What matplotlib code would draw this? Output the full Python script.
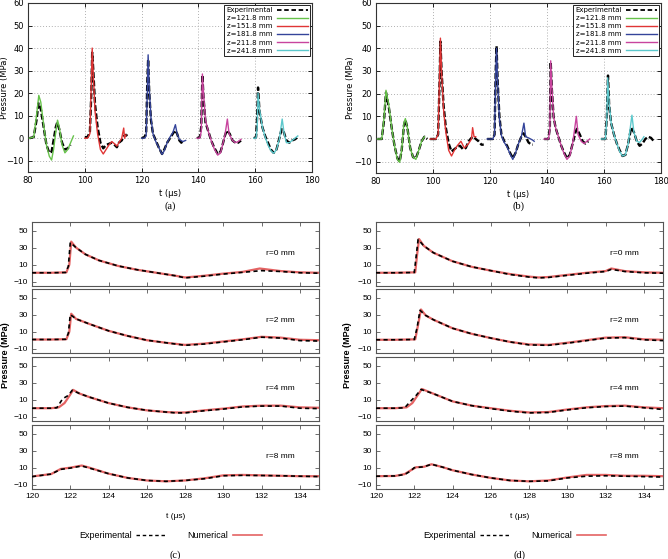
import matplotlib
matplotlib.use("Agg")
import matplotlib.pyplot as plt
from matplotlib.lines import Line2D

# ---------------- Panel (a)/(b) data ----------------
z_labels = ["z=121.8 mm", "z=151.8 mm", "z=181.8 mm", "z=211.8 mm", "z=241.8 mm"]
z_colors = ["#66c24a", "#e03535", "#34449a", "#c8449e", "#5cc8cc"]

# panel (a) experimental
a_exp_t = [
    [80.5, 82, 83, 83.7, 84.5, 85.5, 86.5, 87.5, 88.3, 89, 89.8, 90.3, 91, 92, 93, 94, 95],
    [100, 101, 101.8, 102.3, 102.6, 103, 103.6, 104.5, 105.5, 106.5, 107.5, 108.5, 109.5, 110.5, 111.3, 112, 113, 113.8, 114.5, 115],
    [120, 121, 121.6, 122, 122.3, 122.7, 123.3, 124, 125, 126, 127.2, 128, 129, 130, 131, 131.8, 132.5, 133.3, 134, 134.5],
    [139.5, 140.5, 141, 141.4, 141.8, 142.5, 143.5, 144.5, 145.5, 146.8, 147.8, 148.5, 149.3, 150, 151, 152, 153, 154, 155],
    [159.5, 160.3, 160.7, 161, 161.5, 162.5, 163.5, 164.5, 165.5, 166.5, 167.5, 168.5, 169.3, 170, 171, 172, 173, 174, 175],
]
a_exp_p = [
    [0, 0.5, 8, 15.5, 13, 5, -3, -6.5, -6, -1, 5, 7, 4, -2, -5, -4.5, -3],
    [0.5, 0.5, 3, 20, 38, 30, 15, 5, -2, -4.5, -3, -2.5, -2, -3, -4, -2, -1, 1, 1.5, 1],
    [0, 0.5, 2, 25, 35, 20, 8, 2, -1, -4, -7, -5, -2, 0, 2, 3.5, 2, -1, -2, -1],
    [0, 0.5, 5, 28, 18, 7, 3, -1, -4, -7, -6, -3, 1, 3.5, 2, -1, -2, -2, -1],
    [0, 0.5, 10, 22.5, 12, 5, 1, -2, -5, -6.5, -5, 0, 4, 3, -1, -2, -1, -0.5, 0.5],
]
# panel (a) numerical
a_num_t = [
    [80.5, 82, 83, 83.8, 84.5, 85.5, 86.5, 87.5, 88.3, 89, 89.8, 90.4, 91, 92, 93, 94, 95, 96],
    [100, 101, 101.8, 102.3, 102.6, 103, 103.6, 104.5, 105.5, 106.5, 107.5, 108.5, 109.5, 110.5, 111.3, 112, 113, 113.7, 114, 114.5],
    [120, 121, 121.6, 122, 122.3, 122.7, 123.3, 124, 125, 126, 127.2, 128, 129, 130, 131, 131.9, 132.5, 133.3, 134.5, 135.5],
    [139.5, 140.5, 141, 141.4, 141.8, 142.5, 143.5, 144.5, 145.5, 146.8, 147.8, 148.5, 149.3, 150.2, 150.8, 152, 153, 154, 155],
    [159.5, 160.3, 160.7, 161, 161.5, 162.5, 163.5, 164.5, 165.5, 166.5, 167.5, 168.5, 169.5, 170.2, 171, 172, 173, 174, 175],
]
a_num_p = [
    [0, 0.5, 10, 19, 16, 6, -3, -8, -9.7, -5, 3, 8, 5, -3, -6.5, -5, -2, 1],
    [0, 0, 2, 25, 40, 28, 12, 2, -5, -7, -5, -3, -1.5, -2.5, -3.5, -2, 0, 4.5, 0, 1.5],
    [0, 0, 1, 20, 37, 22, 9, 2, -1.5, -4, -7.2, -5.5, -2, 0.5, 2.5, 6, 2, -0.5, -1.5, -1],
    [0, 0, 3, 28.5, 20, 8, 3, -1, -4.5, -7.5, -6.5, -3, 1, 8.5, 2, -1, -2, -1.5, -0.5],
    [0, 0, 5, 20, 13, 5, 0.5, -3, -5.5, -6.7, -5, -0.5, 8.5, 2, -2, -2, -1, 0, 1],
]

# panel (b) experimental
b_exp_t = [
    [80.5, 82, 82.8, 83.5, 84.5, 85.5, 86.5, 87.5, 88.3, 89, 89.8, 90.3, 91, 92, 93, 94, 95, 96, 97, 98],
    [99, 101, 101.8, 102.3, 102.6, 103, 103.7, 104.5, 105.5, 106.5, 107.5, 108.5, 109.5, 110.5, 111.5, 112.5, 113.5, 114.2, 115, 116, 117, 117.8],
    [119, 121, 121.6, 122, 122.3, 122.7, 123.3, 124, 125, 126, 127, 128, 129, 130, 131, 131.8, 132.5, 133.5, 134.5, 135],
    [139, 140.5, 141, 141.3, 141.7, 142.3, 143, 144, 145, 146, 147, 148, 149, 150, 150.5, 151.5, 152.5, 153.5, 154.5],
    [159, 160.5, 161, 161.4, 161.8, 162.5, 163.5, 164.5, 165.5, 166.5, 167.5, 168.5, 169.5, 170.5, 171.5, 172.5, 173.5, 174.5, 175.5, 176.5, 177.5],
]
b_exp_p = [
    [0, 0, 8, 20.5, 14, 5, -3, -8.5, -10, -5, 6, 8.5, 5, -4, -8, -8.5, -5, -1, 1, 0],
    [0, 0, 2, 25, 43, 30, 15, 5, -2, -5.5, -4.5, -3.5, -3, -4.5, -4, -1, 0.5, 1, 0, -1, -2.5, -2.5],
    [0, 0, 2, 30, 41, 25, 10, 2, -1, -3, -6, -8.5, -6, -2, 1, 2.5, 1, -1.5, -2.5, -2.5],
    [0, 0, 5, 34, 22, 10, 5, 1, -3, -6, -8.5, -7, -2, 3, 4.5, 2, -1, -2, -1],
    [0, 0, 10, 28, 15, 7, 2, -2, -5, -7.5, -7, -2, 5, 3, -1, -3, -2, 0, 1, 0.5, -1],
]
# panel (b) numerical
b_num_t = [
    [80.5, 82, 82.8, 83.5, 84.5, 85.5, 86.5, 87.5, 88.3, 89, 89.8, 90.3, 91, 92, 93, 94, 95, 96, 97],
    [99, 101, 101.8, 102.3, 102.6, 103, 103.7, 104.5, 105.5, 106.5, 107.5, 108.5, 109.8, 111, 112.5, 113.5, 113.9, 114.4, 115],
    [119, 121, 121.6, 122, 122.3, 122.7, 123.3, 124, 125, 126, 127, 128, 129, 130, 131, 131.9, 132.5, 133.5, 135, 135.5],
    [139, 140.5, 141, 141.3, 141.7, 142.3, 143, 144, 145, 146, 147, 148, 149, 150.3, 150.9, 152, 153, 154, 155],
    [159, 160.5, 161, 161.3, 161.8, 162.5, 163.5, 164.5, 165.5, 166.5, 167.5, 168.5, 169.8, 170.5, 171.5, 172.5, 173.5, 174],
]
b_num_p = [
    [0, 0, 9, 21.5, 15, 5, -3, -9, -10.3, -5, 7, 9, 5, -4, -8, -9, -5, -1, 1],
    [0, 0, 2, 28, 44.5, 30, 13, 3, -5, -7.5, -5, -3, -1, -4, -2, 0, 5, 1, 1],
    [0, 0, 2, 28, 40, 24, 9, 1.5, -1.5, -3.5, -6.5, -9, -6, -2, 1, 7, 1, 0.5, -0.5, -1],
    [0, 0, 4, 34.5, 23, 10, 5, 1, -3, -6.5, -9, -7.5, -2, 10, 2, -1, -2, -1, 0],
    [0, 0, 9, 27, 16, 7, 2, -2, -5.5, -7.5, -7, -2, 10.5, 3, -1, -1.5, 0, 1],
]

# ---------------- Panel (c)/(d) data ----------------
r_labels = ["r=0 mm", "r=2 mm", "r=4 mm", "r=8 mm"]

c_exp_t = [
    [120, 121, 121.75, 121.9, 122.0, 122.3, 122.8, 123.5, 124.5, 125.5, 126.5, 127.5, 128, 129, 130, 131, 132, 133, 134, 135],
    [120, 121, 121.75, 121.9, 122.0, 122.3, 123, 124, 125, 126, 127, 128, 129, 130, 131, 132, 133, 134, 135],
    [120, 121, 121.3, 121.6, 121.9, 122.1, 122.5, 123, 124, 125, 126, 127, 127.5, 128, 129, 130, 131, 132, 133, 134, 135],
    [120, 121, 121.5, 122, 122.6, 123, 124, 125, 126, 127, 128, 129, 130, 131, 132, 133, 134, 135],
]
c_exp_p = [
    [0.5, 0.5, 0.8, 8, 36, 30, 22, 15, 8.5, 4, 0.5, -3, -5.5, -3.5, -1, 1, 3, 2, 0.5, 0],
    [0.8, 0.8, 1, 8, 30, 25, 19, 11, 5, 0, -3, -6, -4.5, -2, 0.5, 3.5, 2.5, -0.5, -1],
    [0, 0, 0.5, 11, 15, 21, 17, 13, 6, 1, -2.5, -4.5, -5.5, -5.5, -3, -1, 1.5, 2.5, 2.5, 0, -0.5],
    [-0.5, 2.5, 8, 9.5, 12, 9.5, 3, -2, -5, -6, -5, -3, 0.5, 1, 0.8, 0.5, 0, -0.5],
]
c_num_t = [
    [120, 121, 121.8, 121.95, 122.05, 122.3, 122.8, 123.5, 124.5, 125.5, 126.5, 127.5, 128, 129, 130, 131, 131.9, 133, 134, 135],
    [120, 121, 121.8, 121.95, 122.05, 122.3, 123, 124, 125, 126, 127, 128, 129, 130, 131, 132, 133, 134, 135],
    [120, 121, 121.4, 121.7, 122.0, 122.15, 122.5, 123, 124, 125, 126, 127, 127.5, 128, 129, 130, 131, 132, 133, 134, 135],
    [120, 121, 121.5, 122, 122.6, 123, 124, 125, 126, 127, 128, 129, 130, 131, 132, 133, 134, 135],
]
c_num_p = [
    [0.5, 0.5, 1, 10, 37, 30, 22, 15, 8.5, 4, 0.5, -3, -5, -3, -0.5, 1.5, 5.5, 2.5, 1, 0.5],
    [0.8, 0.8, 1.2, 10, 31, 25, 19, 11, 5, 0, -3, -5.5, -4, -1.5, 1, 4, 3, 0.5, 0],
    [0, 0, 1, 6, 16, 21.5, 17, 13, 6, 1, -2.5, -4.5, -5, -5, -2.5, -0.5, 2, 3, 3, 1, 0.5],
    [-0.3, 2.5, 8.5, 10, 12.5, 10, 3, -2, -5, -6, -5, -2.5, 1, 1.5, 1, 0.5, 0, 0],
]

d_exp_t = [
    [120, 121, 122.0, 122.1, 122.2, 122.5, 123, 124, 125, 126, 127, 128, 128.5, 129, 130, 131, 132, 132.3, 133, 134, 135],
    [120, 121, 122.0, 122.15, 122.3, 122.6, 123, 124, 125, 126, 127, 128, 129, 130, 131, 132, 133, 134, 135],
    [120, 121, 121.5, 121.8, 122.1, 122.35, 123, 124, 125, 126, 127, 128, 129, 130, 131, 132, 133, 134, 135],
    [120, 121, 121.5, 121.8, 122, 122.5, 122.9, 123.5, 124, 125, 126, 127, 128, 129, 130, 131, 132, 133, 134, 135],
]
d_exp_p = [
    [0.5, 0.5, 0.8, 20, 39.5, 32, 24, 14, 7.5, 3, -1.5, -4.5, -5.5, -5, -2.5, 0, 2, 4.5, 2, 0.5, 0],
    [0.5, 0.5, 0.8, 15, 35, 29, 24, 14, 7.5, 2.5, -2, -5.5, -6, -3.5, -0.5, 2.5, 3, 0.5, -0.5],
    [0, 0, 0.5, 8, 15, 22, 17, 8, 3, -0.5, -3.5, -5.5, -5, -2, 0.5, 2, 2.5, 0.5, -1.5],
    [0, 0.3, 2, 6, 10, 11, 14, 10.5, 7, 2, -2, -5, -6, -5.5, -2, 0, 0.5, 0, -0.5, -1],
]
d_num_t = [
    [120, 121, 122.05, 122.15, 122.25, 122.5, 123, 124, 125, 126, 127, 128, 128.5, 129, 130, 131, 132, 132.3, 133, 134, 135],
    [120, 121, 122.05, 122.2, 122.35, 122.6, 123, 124, 125, 126, 127, 128, 129, 130, 131, 132, 133, 134, 135],
    [120, 121, 121.6, 121.9, 122.2, 122.4, 123, 124, 125, 126, 127, 128, 129, 130, 131, 132, 133, 134, 135],
    [120, 121, 121.5, 121.9, 122.1, 122.5, 122.9, 123.5, 124, 125, 126, 127, 128, 129, 130, 131, 132, 133, 134, 135],
]
d_num_p = [
    [0.5, 0.5, 1, 22, 40, 32, 24, 14, 7.5, 3, -1, -4, -5, -4.5, -2, 0.5, 2.5, 5.5, 2.5, 1, 0.5],
    [0.5, 0.5, 1, 18, 36, 29, 24, 14, 7.5, 2.5, -2, -5, -5.5, -3, 0, 3, 3.5, 1, 0.5],
    [0, 0, 1, 6, 16, 22.5, 17, 8, 3, 0, -3, -5, -4.5, -1.5, 1, 2.5, 3, 1, 0],
    [0, 0.3, 2.5, 8, 10.5, 11, 14, 10.5, 7, 2, -2, -5, -6, -5, -1.5, 1.5, 1.5, 0.5, 0.5, 0],
]

exp_color = "black"
num_color = "#e46464"

fig = plt.figure(figsize=(6.68, 5.59), dpi=100)
plt.rcParams["font.family"] = ["DejaVu Sans"]


def top_panel(rect, exp_t, exp_p, num_t, num_p, ylab_x, caption):
    ax = fig.add_axes(rect)
    for i in range(5):
        ax.plot(exp_t[i], exp_p[i], color=exp_color, lw=1.7, ls=(0, (2.5, 1)), zorder=2)
        ax.plot(num_t[i], num_p[i], color=z_colors[i], lw=1.0, zorder=3)
    ax.set_xlim(80, 180)
    ax.set_ylim(-15, 60)
    ax.set_xticks(range(80, 181, 20))
    ax.set_yticks(range(-10, 61, 10))
    ax.grid(True, color="#b0b0b0", ls=(0, (1, 2)), lw=0.7)
    ax.tick_params(direction="in", top=True, right=True, labelsize=6, length=3, width=0.6, pad=3)
    for s in ax.spines.values():
        s.set_linewidth(0.8)
        s.set_color("#333333")
    ax.set_xlabel("t (μs)", fontsize=6, labelpad=3)
    fig.text(ylab_x, rect[1] + rect[3] / 2, "Pressure (MPa)", rotation=90, fontsize=6,
             ha="center", va="center")
    handles = [Line2D([], [], color=exp_color, lw=1.3, ls=(0, (2.5, 1.5)))]
    handles += [Line2D([], [], color=c, lw=1.0) for c in z_colors]
    leg = ax.legend(handles, ["Experimental"] + z_labels, loc="upper right", fontsize=5,
                    markerfirst=False, fancybox=False, framealpha=1, edgecolor="#222222",
                    handlelength=4.5, handletextpad=0.6, labelspacing=0.3, borderpad=0.3,
                    borderaxespad=0.3)
    leg.get_frame().set_linewidth(0.7)
    for t in leg.get_texts():
        t.set_ha("right")
    leg._legend_box.align = "right"
    fig.text(rect[0] + rect[2] / 2, 1 - 206 / 559, caption, fontsize=7.5,
             family=["Liberation Serif"], ha="center", va="center")
    return ax


top_panel([28 / 668, 1 - 172 / 559, 284 / 668, 169 / 559], a_exp_t, a_exp_p, a_num_t, a_num_p,
          5 / 668, "(a)")
top_panel([376 / 668, 1 - 173 / 559, 285 / 668, 170 / 559], b_exp_t, b_exp_p, b_num_t, b_num_p,
          351 / 668, "(b)")

rows_top = [222, 289, 357, 425]
row_h = 64


def bottom_panel(left_px, exp_t, exp_p, num_t, num_p, ylab_x, caption):
    width = 287 / 668
    axes = []
    for i in range(4):
        rect = [left_px / 668, 1 - (rows_top[i] + row_h) / 559, width, row_h / 559]
        ax = fig.add_axes(rect)
        ax.plot(num_t[i], num_p[i], color=num_color, lw=1.6, zorder=2)
        ax.plot(exp_t[i], exp_p[i], color=exp_color, lw=1.2, ls=(0, (2.5, 2)), zorder=3)
        ax.set_xlim(120, 135)
        ax.set_ylim(-15, 60)
        ax.set_yticks([-10, 10, 30, 50])
        ax.set_xticks(range(120, 135, 2))
        ax.tick_params(direction="in", top=True, right=True, labelsize=6, length=3,
                       width=0.6, color="#555555", pad=3)
        for s in ax.spines.values():
            s.set_linewidth(0.8)
            s.set_color("#555555")
        ax.text(133, 23, r_labels[i], fontsize=6, family=["Liberation Sans"],
                ha="center", va="center")
        for lab in ax.get_yticklabels() + ax.get_xticklabels():
            lab.set_family(["Liberation Sans"])
        if i < 3:
            ax.tick_params(labelbottom=False)
        axes.append(ax)
    axes[-1].set_xlabel("t (μs)", fontsize=6, family=["Liberation Sans"], labelpad=9)
    fig.text(ylab_x, 1 - 355 / 559, "Pressure (MPa)", rotation=90, fontsize=6.5,
             fontweight="bold", family=["Liberation Sans"], ha="center", va="center")
    cx = (left_px + 287 / 2) / 668 - 5 / 668
    handles = [Line2D([], [], color=exp_color, lw=1.0, ls=(0, (2.5, 2))),
               Line2D([], [], color=num_color, lw=1.2)]
    fig.legend(handles, ["Experimental", "Numerical"], loc="center", bbox_to_anchor=(cx, 1 - 536 / 559),
               ncol=2, frameon=False, markerfirst=False,
               prop={"family": ["Liberation Sans"], "size": 6.5},
               handlelength=3.2, handletextpad=0.5, columnspacing=2.5)
    fig.text(cx + 5 / 668, 1 - 555 / 559, caption, fontsize=7.5, family=["Liberation Serif"],
             ha="center", va="center")


bottom_panel(32, c_exp_t, c_exp_p, c_num_t, c_num_p, 6 / 668, "(c)")
bottom_panel(376, d_exp_t, d_exp_p, d_num_t, d_num_p, 348 / 668, "(d)")

fig.savefig("out.png", dpi=100)
